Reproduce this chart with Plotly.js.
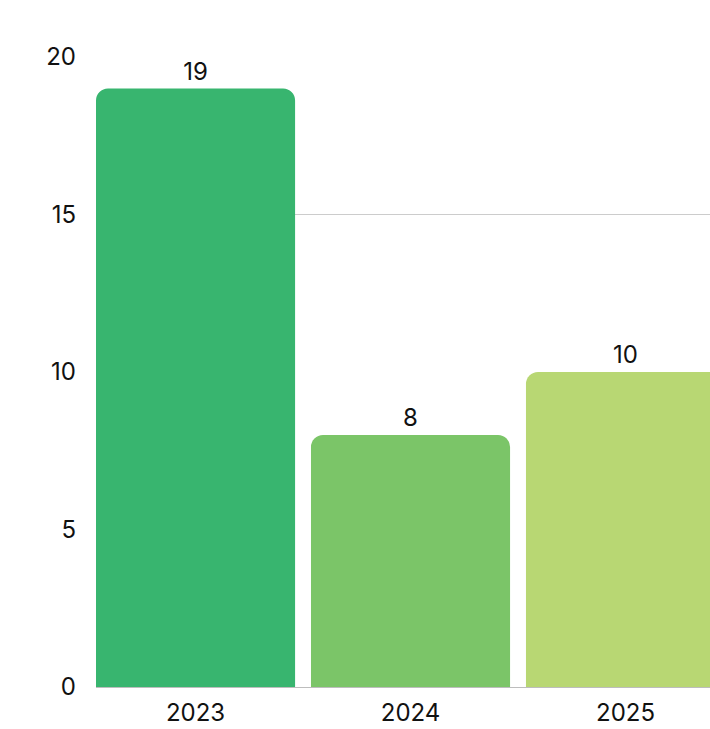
<!DOCTYPE html>
<html><head><meta charset="utf-8">
<script src="https://cdn.plot.ly/plotly-3.0.1.min.js"></script>
<style>html,body{margin:0;padding:0;background:#fff}#chart{width:710px;height:729px}</style>
</head><body><div id="chart"></div>
<script>
const years = ["2023", "2024", "2025"];
const counts = [19, 8, 10];
const barColors = ["#38B56F", "#7BC568", "#B8D773"];
const yTicks = [0, 5, 10, 15, 20];
const strongGridValue = 15;

const trace = {
  type: "bar",
  x: years,
  y: counts,
  marker: {color: barColors, line: {width: 0}},
  text: counts.map(String),
  textposition: "outside",
  textfont: {family: "Inter, sans-serif", size: 24, color: "#111"},
  cliponaxis: false,
  hoverinfo: "skip"
};

const layout = {
  width: 710, height: 729,
  margin: {l: 96, r: 0, t: 57, b: 42, pad: 0},
  paper_bgcolor: "#fff", plot_bgcolor: "rgba(0,0,0,0)",
  bargap: 0.074,
  barcornerradius: 12,
  showlegend: false,
  font: {family: "Inter, sans-serif", size: 24, color: "#111"},
  xaxis: {
    type: "category",
    range: [-0.463, 2.393],
    showgrid: false, showline: false, zeroline: false,
    ticks: "", ticklabelstandoff: 9,
    tickfont: {family: "Inter, sans-serif", size: 24, color: "#111"}
  },
  yaxis: {
    range: [0, 20],
    tickvals: yTicks,
    ticktext: yTicks.map(String),
    showgrid: false,
    zeroline: true, zerolinecolor: "#bdbdbd", zerolinewidth: 1,
    showline: false, ticks: "", ticklabelstandoff: 19,
    tickfont: {family: "Inter, sans-serif", size: 24, color: "#111"}
  },
  shapes: [{
    type: "line", xref: "paper", yref: "y", x0: 0, x1: 1,
    y0: strongGridValue, y1: strongGridValue,
    line: {color: "#cccccc", width: 1}, layer: "below"
  }]
};

Plotly.newPlot("chart", [trace], layout, {displayModeBar: false, staticPlot: true});
</script>
</body></html>
